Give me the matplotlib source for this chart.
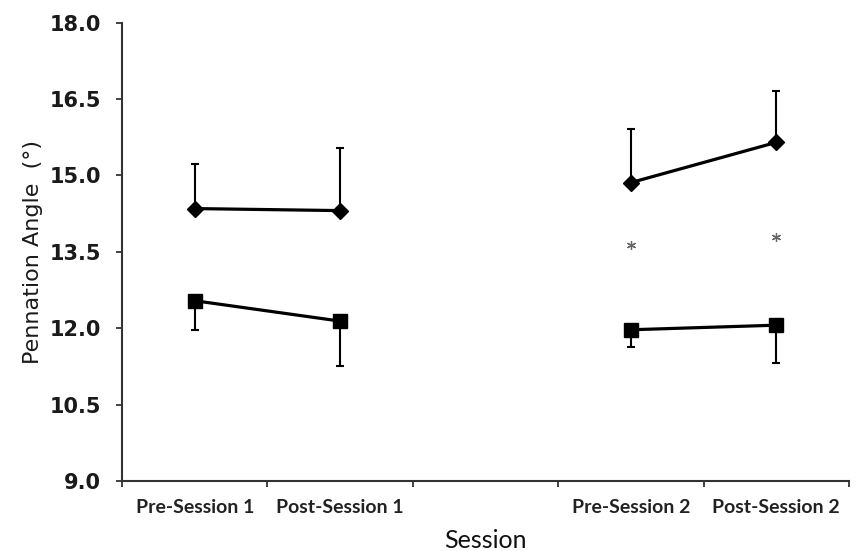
import matplotlib
matplotlib.use("Agg")
import matplotlib.pyplot as plt

# Data
categories = ["Pre-Session 1", "Post-Session 1", "", "Pre-Session 2", "Post-Session 2"]
session1_x = [0, 1]
session2_x = [3, 4]
diamond_s1 = [14.35, 14.31]
diamond_s2 = [14.86, 15.65]
diamond_err_s1 = [0.88, 1.23]
diamond_err_s2 = [1.06, 1.00]
square_s1 = [12.54, 12.14]
square_s2 = [11.97, 12.06]
square_err_s1 = [0.57, 0.88]
square_err_s2 = [0.34, 0.75]
star_x = [3, 4]
star_y = [13.64, 13.80]
y_ticks = [9.0, 10.5, 12.0, 13.5, 15.0, 16.5, 18.0]

fig = plt.figure(figsize=(8.57, 5.51), dpi=100)
ax = fig.add_axes([122/857, 1-481/551, (849-122)/857, (481-22.7)/551])

def draw(x, y, err, marker, ms, upper):
    yerr = [[0]*len(err), err] if upper else [err, [0]*len(err)]
    ax.errorbar(x, y, yerr=yerr, fmt='none', ecolor='black', elinewidth=1.5,
                capsize=3, capthick=1.5, zorder=2)
    ax.plot(x, y, color='black', lw=2.3, marker=marker, ms=ms,
            mfc='black', mec='black', mew=1, zorder=3)

draw(session1_x, diamond_s1, diamond_err_s1, 'D', 8.3, True)
draw(session2_x, diamond_s2, diamond_err_s2, 'D', 8.3, True)
draw(session1_x, square_s1, square_err_s1, 's', 10, False)
draw(session2_x, square_s2, square_err_s2, 's', 10, False)

ax.plot(star_x, star_y, linestyle='none', marker=(6, 2, 0), ms=6.5,
        mec='#666666', mew=0.9, zorder=3)

ax.set_xlim(-0.5, 4.5)
ax.set_ylim(9.0, 18.0)
ax.set_yticks(y_ticks)
ax.set_yticklabels([f"{v:.1f}" for v in y_ticks], fontsize=15, fontweight='bold',
                   family='DejaVu Sans', color='#1a1a1a')
ax.set_xticks([-0.5, 0.5, 1.5, 2.5, 3.5, 4.5])
ax.set_xticklabels([])
ax.set_xticks(range(len(categories)), minor=True)
ax.set_xticklabels(categories, minor=True, fontsize=14, fontweight='bold',
                   family='Lato', color='#222222')
ax.tick_params(axis='x', which='minor', length=0, pad=13)
ax.tick_params(axis='x', which='major', length=4, width=1.3, color='#333333')
ax.tick_params(axis='y', length=4, width=1.3, color='#333333', pad=11)

for s in ['top', 'right']:
    ax.spines[s].set_visible(False)
for s in ['left', 'bottom']:
    ax.spines[s].set_linewidth(1.5)
    ax.spines[s].set_color('#333333')

ax.set_ylabel("Pennation Angle  (°)", fontsize=16, family='DejaVu Sans', color='#1a1a1a', labelpad=5)
ax.set_xlabel("Session", fontsize=18, family='Lato', color='#111111', labelpad=9)

fig.savefig("out.png", dpi=100)
